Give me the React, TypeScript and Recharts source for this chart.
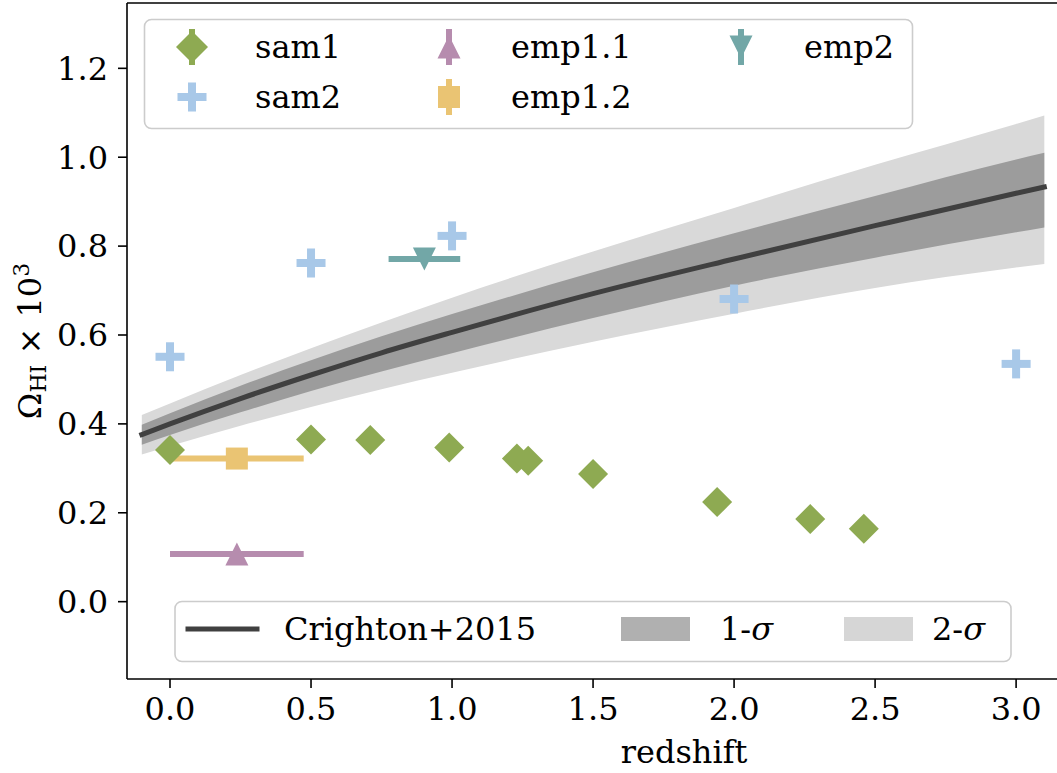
import React from 'react';
import { ComposedChart, Area, Line, Scatter, ErrorBar, XAxis, YAxis } from 'recharts';

// Crighton+2015 fit and its bands
const bandZ = [-0.1, 0, 0.25, 0.5, 0.75, 1.0, 1.5, 2.0, 2.5, 3.0, 3.1];
const crighton = [0.376, 0.4, 0.457, 0.51, 0.56, 0.606, 0.693, 0.771, 0.846, 0.919, 0.933];
const sigma1Lo = [0.353, 0.375, 0.426, 0.474, 0.518, 0.559, 0.638, 0.711, 0.774, 0.831, 0.842];
const sigma1Hi = [0.398, 0.424, 0.486, 0.543, 0.597, 0.647, 0.741, 0.829, 0.913, 0.995, 1.01];
const sigma2Lo = [0.331, 0.35, 0.396, 0.438, 0.478, 0.515, 0.585, 0.648, 0.706, 0.752, 0.76];
const sigma2Hi = [0.42, 0.446, 0.51, 0.57, 0.628, 0.684, 0.788, 0.886, 0.983, 1.075, 1.094];

// model points
const sam1Z = [0, 0.5, 0.71, 0.99, 1.23, 1.27, 1.5, 1.94, 2.27, 2.46];
const sam1Omega = [0.341, 0.365, 0.364, 0.347, 0.322, 0.317, 0.287, 0.224, 0.186, 0.164];
const sam2Z = [0, 0.5, 1.0, 2.0, 3.0];
const sam2Omega = [0.551, 0.762, 0.823, 0.681, 0.535];
const emp11 = { z: 0.237, omega: 0.107, zErr: 0.237 };
const emp12 = { z: 0.237, omega: 0.322, zErr: 0.237 };
const emp2 = { z: 0.902, omega: 0.771, zErr: 0.127 };

const xTicks = [0, 0.5, 1.0, 1.5, 2.0, 2.5, 3.0];
const yTicks = [0, 0.2, 0.4, 0.6, 0.8, 1.0, 1.2];

const FONT = 'DejaVu Serif';
const GREEN = '#8eaa52';
const BLUE = '#a8c8e8';
const PURPLE = '#b68cae';
const YELLOW = '#eac473';
const TEAL = '#72a7a7';

const bandData = bandZ.map((z, i) => ({
  z,
  c: crighton[i],
  s1: [sigma1Lo[i], sigma1Hi[i]],
  s2: [sigma2Lo[i], sigma2Hi[i]],
}));
const sam1Data = sam1Z.map((z, i) => ({ z, omega: sam1Omega[i] }));
const sam2Data = sam2Z.map((z, i) => ({ z, omega: sam2Omega[i] }));

const diamond = (cx: number, cy: number, r: number, fill: string) => (
  <polygon points={`${cx},${cy - r} ${cx + r},${cy} ${cx},${cy + r} ${cx - r},${cy}`} fill={fill} />
);
const plus = (cx: number, cy: number, w: number, t: number, fill: string) => (
  <g fill={fill}>
    <rect x={cx - w / 2} y={cy - t / 2} width={w} height={t} />
    <rect x={cx - t / 2} y={cy - w / 2} width={t} height={w} />
  </g>
);
const triUp = (cx: number, cy: number, s: number, fill: string) => (
  <polygon points={`${cx},${cy - s / 2} ${cx + s / 2},${cy + s / 2} ${cx - s / 2},${cy + s / 2}`} fill={fill} />
);
const triDown = (cx: number, cy: number, s: number, fill: string) => (
  <polygon points={`${cx},${cy + s / 2} ${cx + s / 2},${cy - s / 2} ${cx - s / 2},${cy - s / 2}`} fill={fill} />
);
const square = (cx: number, cy: number, s: number, fill: string) => (
  <rect x={cx - s / 2} y={cy - s / 2} width={s} height={s} fill={fill} />
);

const Legends = () => {
  const rowA = 47;
  const rowB = 97;
  const stub = (cx: number, cy: number, color: string) => (
    <rect x={cx - 3} y={cy - 18} width={6} height={36} fill={color} />
  );
  const label = (x: number, y: number, t: React.ReactNode) => (
    <text x={x} y={y} dominantBaseline="central" fontFamily={FONT} fontSize={32} fill="#000">
      {t}
    </text>
  );
  return (
    <svg width={1057} height={773} style={{ position: 'absolute', left: 0, top: 0, pointerEvents: 'none' }}>
      {/* top spine */}
      <line x1={127} y1={3} x2={1057} y2={3} stroke="#000" strokeWidth={1.6} />

      <rect x={144.5} y={19.5} width={768} height={109} rx={7} fill="#fff" fillOpacity={0.8} stroke="#cccccc" strokeWidth={1.6} />
      {stub(192, rowA, GREEN)}
      {diamond(192, rowA, 16, GREEN)}
      {label(255, rowA, 'sam1')}
      {plus(192, rowB, 29, 8, BLUE)}
      {label(255, rowB, 'sam2')}
      {stub(449, rowA, PURPLE)}
      {triUp(449, rowA, 23, PURPLE)}
      {label(511, rowA, 'emp1.1')}
      {stub(449, rowB, YELLOW)}
      {square(449, rowB, 22, YELLOW)}
      {label(511, rowB, 'emp1.2')}
      {stub(741, rowA, TEAL)}
      {triDown(741, rowA, 23, TEAL)}
      {label(804, rowA, 'emp2')}

      <rect x={175} y={601.5} width={836} height={60} rx={7} fill="#fff" fillOpacity={0.8} stroke="#cccccc" strokeWidth={1.6} />
      <line x1={188} y1={629} x2={257} y2={629} stroke="#404040" strokeWidth={5} strokeLinecap="square" />
      {label(284, 629, 'Crighton+2015')}
      <rect x={621} y={617} width={69} height={24} fill="#b0b0b0" />
      {label(720, 629, <>1-<tspan fontStyle="italic">σ</tspan></>)}
      <rect x={844} y={617} width={69} height={24} fill="#d6d6d6" />
      {label(932, 629, <>2-<tspan fontStyle="italic">σ</tspan></>)}

      <text x={684} y={763} textAnchor="middle" fontFamily={FONT} fontSize={32} fill="#000">
        redshift
      </text>
      <text transform="translate(41,341) rotate(-90)" textAnchor="middle" fontFamily={FONT} fontSize={32} fill="#000">
        Ω<tspan fontSize={22} dy={5}>HI</tspan>
        <tspan dy={-5}> × 10</tspan>
        <tspan fontSize={22} dy={-12}>3</tspan>
      </text>
    </svg>
  );
};

const App = () => {
  const tickStyle = { fill: '#000', fontSize: 32, fontFamily: FONT };
  return (
    <div style={{ position: 'absolute', left: 0, top: 0, width: 1057, height: 773, background: '#fff' }}>
      <ComposedChart width={1057} height={773} data={bandData} margin={{ top: 3, right: 0, bottom: 0, left: 0 }}>
        <XAxis
          type="number"
          dataKey="z"
          domain={[-0.1525, 3.145]}
          allowDataOverflow
          ticks={xTicks}
          tickFormatter={(v: number) => v.toFixed(1)}
          tick={tickStyle}
          tickSize={9}
          tickMargin={9}
          height={94}
          axisLine={{ stroke: '#000', strokeWidth: 1.6 }}
          tickLine={{ stroke: '#000', strokeWidth: 1.6 }}
        />
        <YAxis
          type="number"
          domain={[-0.174, 1.347]}
          allowDataOverflow
          ticks={yTicks}
          tickFormatter={(v: number) => v.toFixed(1)}
          tick={tickStyle}
          tickSize={9}
          tickMargin={10}
          width={127}
          axisLine={{ stroke: '#000', strokeWidth: 1.6 }}
          tickLine={{ stroke: '#000', strokeWidth: 1.6 }}
        />
        <Area dataKey="s2" type="monotone" stroke="none" fill="#d9d9d9" fillOpacity={1} isAnimationActive={false} />
        <Area dataKey="s1" type="monotone" stroke="none" fill="#9c9c9c" fillOpacity={1} isAnimationActive={false} />
        <Line dataKey="c" type="monotone" stroke="#404040" strokeWidth={5} dot={false} strokeLinecap="square" isAnimationActive={false} />
        <Scatter
          data={[emp12]}
          dataKey="omega"
          isAnimationActive={false}
          shape={(p: any) => square(p.cx, p.cy, 22, YELLOW)}
        >
          <ErrorBar dataKey="zErr" direction="x" width={0} stroke={YELLOW} strokeWidth={6} />
        </Scatter>
        <Scatter
          data={[emp11]}
          dataKey="omega"
          isAnimationActive={false}
          shape={(p: any) => triUp(p.cx, p.cy, 23, PURPLE)}
        >
          <ErrorBar dataKey="zErr" direction="x" width={0} stroke={PURPLE} strokeWidth={6} />
        </Scatter>
        <Scatter
          data={[emp2]}
          dataKey="omega"
          isAnimationActive={false}
          shape={(p: any) => triDown(p.cx, p.cy, 23, TEAL)}
        >
          <ErrorBar dataKey="zErr" direction="x" width={0} stroke={TEAL} strokeWidth={6} />
        </Scatter>
        <Scatter
          data={sam1Data}
          dataKey="omega"
          isAnimationActive={false}
          shape={(p: any) => diamond(p.cx, p.cy, 15, GREEN)}
        />
        <Scatter
          data={sam2Data}
          dataKey="omega"
          isAnimationActive={false}
          shape={(p: any) => plus(p.cx, p.cy, 29, 8, BLUE)}
        />
      </ComposedChart>
      <Legends />
    </div>
  );
};

export default App;
